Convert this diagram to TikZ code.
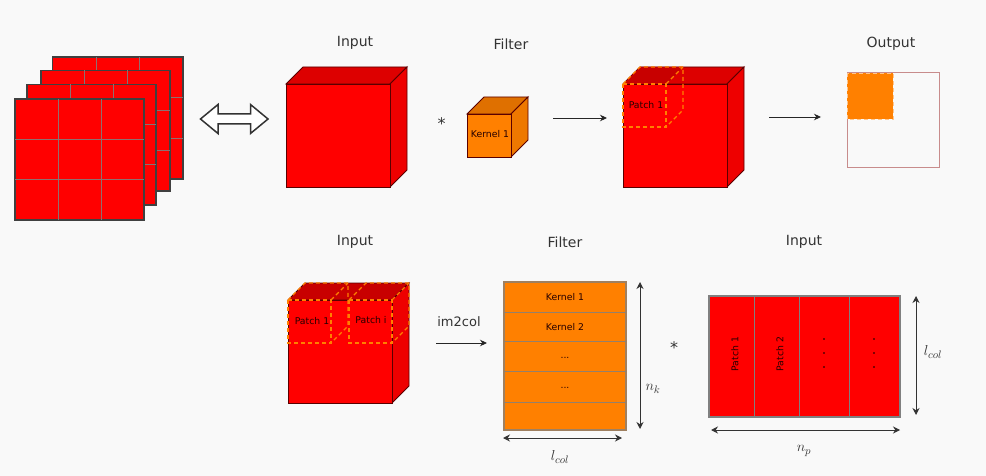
\documentclass[tikz,border=0pt]{standalone}
\usepackage{fontspec}
\setmainfont{DejaVu Sans}
\usetikzlibrary{arrows.meta}
\definecolor{bgc}{HTML}{F9F9F9}
\definecolor{redf}{HTML}{FF0000}
\definecolor{redt}{HTML}{DD0000}
\definecolor{reds}{HTML}{EE0000}
\definecolor{patcht}{HTML}{C80000}
\definecolor{orf}{HTML}{FF8000}
\definecolor{ort}{HTML}{DF7000}
\definecolor{ors}{HTML}{EE7800}
\definecolor{edgec}{HTML}{5A0000}
\definecolor{gridc}{HTML}{8F7070}
\definecolor{txt}{HTML}{333333}
\definecolor{outl}{HTML}{C88C8C}
\tikzset{
  x=1pt,y=-1pt,
  title/.style={font=\fontsize{14}{16}\selectfont,text=txt,inner sep=0pt},
  small/.style={font=\fontsize{9.3}{11}\selectfont,text=black!85!red,inner sep=0pt},
  mathlab/.style={font=\fontsize{15.5}{18}\selectfont,text=txt,inner sep=0pt},
  flow/.style={draw=black!85,line width=0.9pt,-{Stealth[length=7pt,width=6.5pt]}},
  dim/.style={draw=black!80,line width=1pt,{Stealth[length=7pt,width=7pt]}-{Stealth[length=7pt,width=7pt]}},
  layer/.style={draw=black!75,line width=1.8pt,fill=redf},
  gridl/.style={draw=gridc,line width=0.9pt},
  patchd/.style={draw=orf,dash pattern=on 4pt off 3pt,line width=1.3pt},
  cubeedge/.style={draw=edgec,line width=0.9pt},
  ptdot/.style={circle,fill=black,inner sep=0pt,minimum size=1.8pt},
}
% x y w h d front top side
\newcommand{\mycube}[8]{%
  \path[cubeedge,fill=#7] (#1,#2) -- ++(#5,-#5) -- ++(#3,0) -- ++(-#5,#5) -- cycle;
  \path[cubeedge,fill=#8] (#1+#3,#2) -- ++(#5,-#5) -- ++(0,#4) -- ++(-#5,#5) -- cycle;
  \path[cubeedge,fill=#6] (#1,#2) rectangle ++(#3,#4);
}
\newcommand{\mylayer}[4]{%
  \draw[layer] (#1,#2) rectangle (#3,#4);
  \pgfmathsetmacro{\ux}{(#3-#1)/3}\pgfmathsetmacro{\uy}{(#4-#2)/3}
  \draw[gridl] (#1+\ux,#2) -- (#1+\ux,#4) (#1+2*\ux,#2) -- (#1+2*\ux,#4)
               (#1,#2+\uy) -- (#3,#2+\uy) (#1,#2+2*\uy) -- (#3,#2+2*\uy);
}
% x y size depth : dashed patch outline
\newcommand{\mypatch}[4]{%
  \draw[patchd] (#1,#2) rectangle ++(#3,#3);
  \draw[patchd] (#1,#2) -- ++(#4,-#4) -- ++(#3,0) -- ++(0,#3) -- ++(-#4,#4);
  \draw[patchd] (#1+#3,#2) -- ++(#4,-#4);
}
\begin{document}
\begin{tikzpicture}
\path[use as bounding box,fill=bgc] (0,0) rectangle (986,476);

% stacked layers
\mylayer{52.5}{57}{183}{179}
\mylayer{41}{70.5}{170}{191}
\mylayer{27}{84.5}{156}{205}
\mylayer{15}{99}{144}{220}

% double arrow
\draw[draw=black!80,line width=1.5pt,fill=white,line join=miter]
  (200.5,119) -- (218,104.5) -- (218,114) -- (250.5,114) -- (250.5,104.5) -- (268,119)
  -- (250.5,133.5) -- (250.5,124) -- (218,124) -- (218,133.5) -- cycle;

% top row
\node[title] (t1) at (355,43) {Input};
\node[title] (t2) at (511,44) {Filter};
\node[title] (t3) at (891,44) {Output};
\mycube{286}{84}{104}{103}{17}{redf}{redt}{reds}
\node[font=\fontsize{16}{18}\selectfont,text=txt,inner sep=0pt] (star1) at (441.5,123.5) {*};
\mycube{467}{114}{44}{43}{17}{orf}{ort}{ors}
\node[small] (k1) at (490,134) {Kernel 1};
\mycube{623}{84}{104}{103}{17}{redf}{redt}{reds}
\fill[patcht] (623,84) -- (640,67) -- (683,67) -- (666,84) -- cycle;
\mypatch{623}{84}{43}{17}
\node[small] (p1) at (646,105.5) {Patch 1};
\coordinate (a1s) at (553,118);
\coordinate (a1e) at (607,118);
\draw[flow] (a1s) -- (a1e);
\coordinate (a2s) at (769,117);
\coordinate (a2e) at (821,117);
\draw[flow] (a2s) -- (a2e);
\draw[draw=outl,line width=1pt,fill=bgc] (847,73) rectangle (939,168);
\draw[fill=orf,draw=orf!45!white,dash pattern=on 4pt off 3pt,line width=0.9pt] (847,73) rectangle (893,119);

% bottom row
\node[title] (t4) at (355,242) {Input};
\node[title] (t5) at (565,242) {Filter};
\node[title] (t6) at (804,242) {Input};
\mycube{288}{300}{104}{103}{17}{redf}{patcht}{reds}
\mypatch{288}{300}{43}{17}
\mypatch{349}{300}{43}{17}
\node[small] (p2) at (312,321) {Patch 1};
\node[small] (p3) at (371,320.5) {Patch i};
\node[font=\fontsize{13}{15}\selectfont,text=txt,inner sep=0pt] (im) at (459,322) {im2col};
\coordinate (a3s) at (436,343);
\coordinate (a3e) at (487,343);
\draw[flow] (a3s) -- (a3e);

% filter matrix
\draw[fill=orf,draw=gray!75!orange,line width=1.1pt] (504,282) rectangle (626,430);
\foreach \yy in {312,341,371,402} \draw[draw=gray!85!orange,line width=1pt] (504,\yy) -- (626,\yy);
\node[small] (k2) at (565,297.5) {Kernel 1};
\node[small] (k3) at (565,327) {Kernel 2};
\node[small] (d1) at (565,358) {...};
\node[small] (d2) at (565,388) {...};
\coordinate (nk1) at (640,282);
\coordinate (nk2) at (640,429);
\draw[dim] (nk1) -- (nk2);
\coordinate (lc1) at (503,438);
\coordinate (lc2) at (622,438);
\draw[dim] (lc1) -- (lc2);
\node[mathlab] (nk) at (653,389) {$n_k$};
\node[mathlab] (lc) at (560,457) {$l_{col}$};
\node[font=\fontsize{16}{18}\selectfont,text=txt,inner sep=0pt] (star2) at (674,347.5) {*};

% patch matrix
\draw[fill=redf,draw=gray,line width=1.1pt] (709,296) rectangle (900,417);
\foreach \xx in {754,799,849} \draw[draw=gray,line width=1pt] (\xx,296) -- (\xx,417);
\node[small,rotate=90] (p4) at (735,354) {Patch 1};
\node[small,rotate=90] (p5) at (780,354) {Patch 2};
\foreach \xx in {824,874} \foreach \yy in {339,353,367} \node[ptdot] at (\xx,\yy) {};
\coordinate (lv1) at (916,296);
\coordinate (lv2) at (916,415);
\draw[dim] (lv1) -- (lv2);
\coordinate (np1) at (711,430);
\coordinate (np2) at (900,430);
\draw[dim] (np1) -- (np2);
\node[mathlab] (lc3) at (933,352) {$l_{col}$};
\node[mathlab] (np) at (804,451) {$n_p$};
\end{tikzpicture}
\end{document}
